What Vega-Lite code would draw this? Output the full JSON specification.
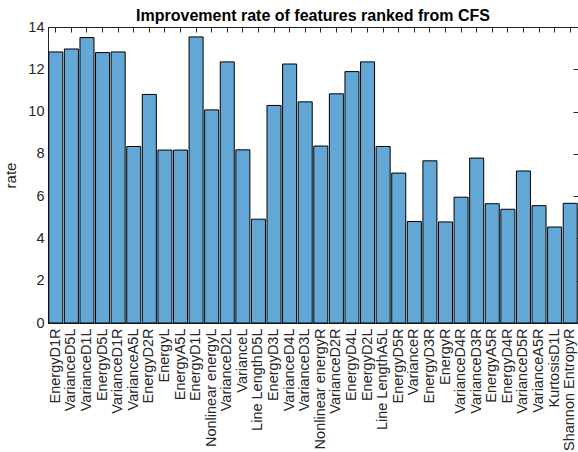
{
  "$schema": "https://vega.github.io/schema/vega-lite/v6.json",
  "autosize": {"type": "none"},
  "padding": {"left": 48, "top": 27, "right": 0, "bottom": 129},
  "width": 530,
  "height": 296,
  "background": "white",
  "title": {
    "text": "Improvement rate of features ranked from CFS",
    "font": "Liberation Sans",
    "fontSize": 16,
    "fontWeight": "bold",
    "color": "#000000",
    "anchor": "middle",
    "offset": -5
  },
  "data": {
    "values": [
      {"feature": "EnergyD1R", "rate": 12.82},
      {"feature": "VarianceD5L", "rate": 12.96},
      {"feature": "VarianceD1L", "rate": 13.5},
      {"feature": "EnergyD5L", "rate": 12.79},
      {"feature": "VarianceD1R", "rate": 12.82},
      {"feature": "VarianceA5L", "rate": 8.35},
      {"feature": "EnergyD2R", "rate": 10.81},
      {"feature": "EnergyL", "rate": 8.18},
      {"feature": "EnergyA5L", "rate": 8.18},
      {"feature": "EnergyD1L", "rate": 13.53},
      {"feature": "Nonlinear energyL", "rate": 10.08},
      {"feature": "VarianceD2L", "rate": 12.35},
      {"feature": "VarianceL", "rate": 8.19},
      {"feature": "Line LengthD5L", "rate": 4.91},
      {"feature": "EnergyD3L", "rate": 10.29},
      {"feature": "VarianceD4L", "rate": 12.25},
      {"feature": "VarianceD3L", "rate": 10.46},
      {"feature": "Nonlinear energyR", "rate": 8.37},
      {"feature": "VarianceD2R", "rate": 10.84},
      {"feature": "EnergyD4L", "rate": 11.89},
      {"feature": "EnergyD2L", "rate": 12.35},
      {"feature": "Line LengthA5L", "rate": 8.35},
      {"feature": "EnergyD5R", "rate": 7.09},
      {"feature": "VarianceR", "rate": 4.8},
      {"feature": "EnergyD3R", "rate": 7.67},
      {"feature": "EnergyR", "rate": 4.78},
      {"feature": "VarianceD4R", "rate": 5.95},
      {"feature": "VarianceD3R", "rate": 7.8},
      {"feature": "EnergyA5R", "rate": 5.64},
      {"feature": "EnergyD4R", "rate": 5.38},
      {"feature": "VarianceD5R", "rate": 7.19},
      {"feature": "VarianceA5R", "rate": 5.55},
      {"feature": "KurtosisD1L", "rate": 4.54},
      {"feature": "Shannon EntropyR", "rate": 5.66}
    ]
  },
  "config": {
    "view": {"stroke": "#262626", "strokeWidth": 1},
    "axis": {
      "labelFont": "Liberation Sans",
      "titleFont": "Liberation Sans",
      "labelColor": "#262626",
      "titleColor": "#262626",
      "domainColor": "#262626",
      "tickColor": "#262626",
      "labelFontSize": 14.5,
      "titleFontSize": 15,
      "titleFontWeight": "normal",
      "grid": false
    }
  },
  "layer": [
    {
      "mark": {"type": "bar", "fill": "#63A7D7", "stroke": "#000000", "strokeWidth": 1},
      "encoding": {
        "x": {
          "field": "feature",
          "type": "nominal",
          "sort": null,
          "scale": {"paddingInner": 0.1, "paddingOuter": 0.05},
          "axis": {
            "orient": "bottom",
            "title": null,
            "labelAngle": -90,
            "labelAlign": "right",
            "labelBaseline": "middle",
            "tickSize": -5,
            "labelPadding": 10,
            "labelOverlap": false,
            "labelLimit": 200
          }
        },
        "y": {
          "field": "rate",
          "type": "quantitative",
          "scale": {"domain": [0, 14], "nice": false},
          "axis": {
            "orient": "left",
            "title": "rate",
            "values": [0, 2, 4, 6, 8, 10, 12, 14],
            "tickSize": -5,
            "labelPadding": 9,
            "titlePadding": 9
          }
        }
      }
    },
    {
      "mark": {"type": "bar", "opacity": 0},
      "encoding": {
        "x": {
          "field": "feature",
          "type": "nominal",
          "sort": null,
          "axis": {"orient": "top", "title": null, "labels": false, "tickSize": -5, "domain": true}
        },
        "y": {
          "field": "rate",
          "type": "quantitative",
          "axis": {"orient": "right", "title": null, "labels": false, "values": [0, 2, 4, 6, 8, 10, 12, 14], "tickSize": -5}
        }
      }
    }
  ],
  "resolve": {"axis": {"x": "independent", "y": "independent"}}
}
